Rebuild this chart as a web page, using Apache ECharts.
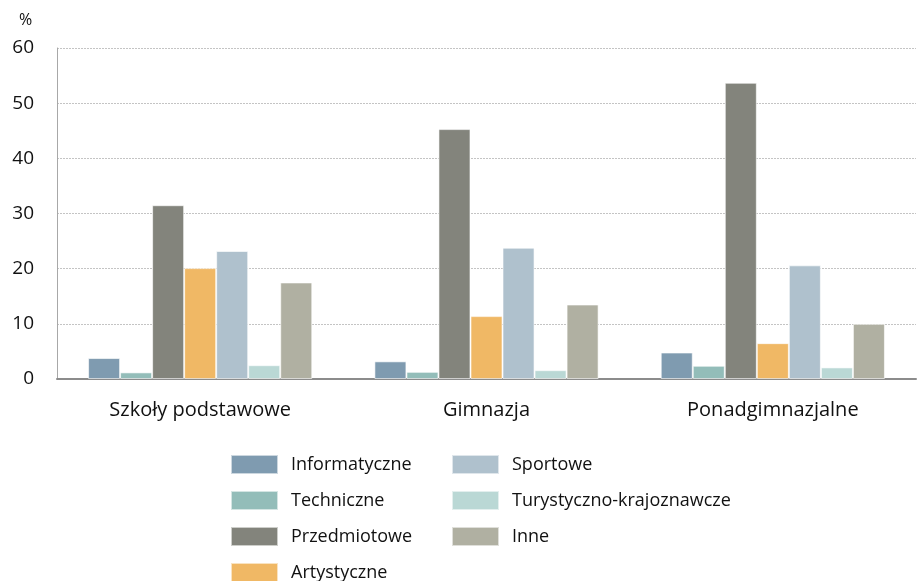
<!DOCTYPE html>
<html>
<head>
<meta charset="utf-8">
<script src="https://cdn.jsdelivr.net/npm/echarts@6/dist/echarts.min.js"></script>
<style>
  html, body { margin: 0; padding: 0; background: #fff; }
  #chart { width: 917px; height: 581px; }
</style>
</head>
<body>
<div id="chart"></div>
<script>
// ------------------------------------------------------------
// data
// ------------------------------------------------------------
const categories = ["Szkoły podstawowe", "Gimnazja", "Ponadgimnazjalne"];
const seriesNames = [
  "Informatyczne",
  "Techniczne",
  "Przedmiotowe",
  "Artystyczne",
  "Sportowe",
  "Turystyczno-krajoznawcze",
  "Inne",
];
const informatyczne = [3.8, 3.2, 4.8];
const techniczne = [1.2, 1.3, 2.4];
const przedmiotowe = [31.5, 45.3, 53.7];
const artystyczne = [20.1, 11.4, 6.5];
const sportowe = [23.2, 23.8, 20.6];
const turystyczne = [2.5, 1.6, 2.1];
const inne = [17.5, 13.5, 10.0];
const yTicks = [0, 10, 20, 30, 40, 50, 60];

const seriesValues = [
  informatyczne, techniczne, przedmiotowe, artystyczne,
  sportowe, turystyczne, inne,
];
const colors = [
  "#7f9bb0", "#93bdb9", "#83847c", "#f0b865",
  "#afc1cd", "#bad8d5", "#b0b0a2",
];

const FONT = "'Open Sans', 'Noto Sans', sans-serif";

const chart = echarts.init(document.getElementById("chart"));

// legend: two columns (4 + 3), one legend box per entry so rows line up
const legends = seriesNames.map((name, i) => {
  const col = i < 4 ? 0 : 1;
  const row = i < 4 ? i : i - 4;
  return {
    left: col ? 451 : 230,
    top: 454 + row * 36,
    padding: 0,
    itemWidth: 47,
    itemHeight: 19,
    icon: "rect",
    selectedMode: false,
    data: [name],
    textStyle: {
      fontFamily: FONT,
      fontSize: 18,
      color: "#111",
      padding: [0, 0, 0, 8],
    },
  };
});

chart.setOption({
  backgroundColor: "#fff",
  animation: false,
  color: colors,
  textStyle: { fontFamily: FONT },
  grid: { left: 57, right: 1, top: 48, bottom: 202 },
  graphic: [
    {
      type: "text",
      left: 19,
      top: 12,
      style: { text: "%", fontSize: 16, fontFamily: FONT, fill: "#111" },
    },
  ],
  legend: legends,
  xAxis: {
    type: "category",
    data: categories,
    axisTick: { show: false },
    axisLine: { lineStyle: { color: "#8c8c8c", width: 2 } },
    axisLabel: { color: "#111", fontSize: 20, margin: 21, fontFamily: FONT },
  },
  yAxis: {
    type: "value",
    min: yTicks[0],
    max: yTicks[yTicks.length - 1],
    interval: 10,
    axisLine: { show: true, lineStyle: { color: "#a8a8a8", width: 1 } },
    axisTick: { show: false },
    axisLabel: { color: "#111", fontSize: 19, margin: 23, fontFamily: FONT },
    splitLine: { lineStyle: { color: "#c4c4c4", type: [2, 1] } },
  },
  series: seriesNames.map((name, i) => ({
    name,
    type: "bar",
    data: seriesValues[i],
    barGap: "0%",
    barCategoryGap: "21.7%",
    itemStyle: { color: colors[i], borderColor: "rgba(255,255,255,0.6)", borderWidth: 1 },
  })),
});
</script>
</body>
</html>
